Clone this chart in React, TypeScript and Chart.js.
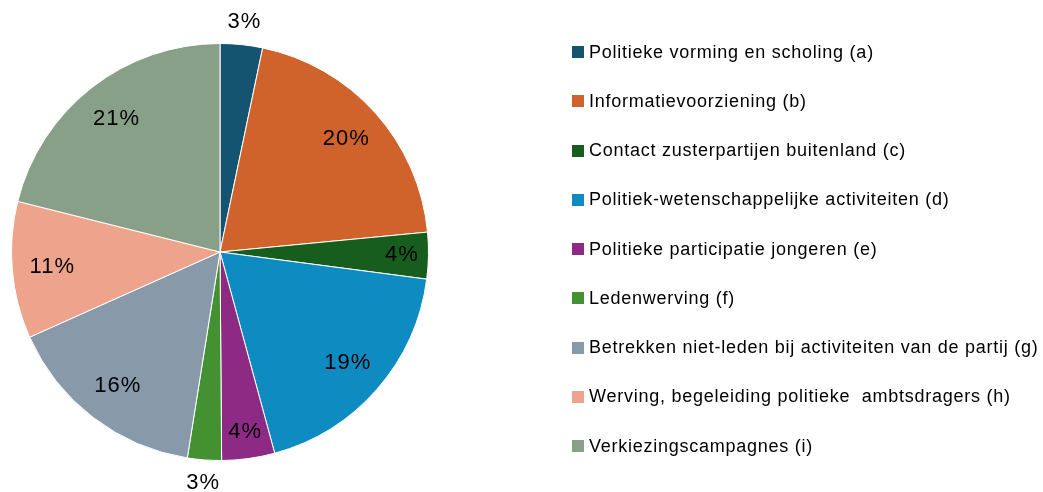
import React, { useEffect, useRef } from "react";
import { Chart, registerables } from "chart.js";

Chart.register(...registerables);

const categories = [
  "Politieke vorming en scholing (a)",
  "Informatievoorziening (b)",
  "Contact zusterpartijen buitenland (c)",
  "Politiek-wetenschappelijke activiteiten (d)",
  "Politieke participatie jongeren (e)",
  "Ledenwerving (f)",
  "Betrekken niet-leden bij activiteiten van de partij (g)",
  "Werving, begeleiding politieke  ambtsdragers (h)",
  "Verkiezingscampagnes (i)",
];

const shares = [3.28, 20.2, 3.6, 18.7, 4.1, 2.63, 15.8, 10.6, 21.1];

const colors = [
  "#155470",
  "#D0632B",
  "#165D1E",
  "#0E8CC1",
  "#8C2A84",
  "#439131",
  "#8899AA",
  "#EDA38C",
  "#88A088",
];

const FONT = "'Liberation Sans', Arial, sans-serif";

const labelPlugin = {
  id: "pctLabels",
  afterDatasetsDraw(chart: any) {
    const ctx = chart.ctx;
    const meta = chart.getDatasetMeta(0);
    const data = chart.data.datasets[0].data as number[];
    const total = data.reduce((s, v) => s + v, 0);
    ctx.save();
    ctx.fillStyle = "#000";
    ctx.font = `22px ${FONT}`;
    try {
      (ctx as any).letterSpacing = "1px";
    } catch (e) {}
    ctx.textAlign = "center";
    ctx.textBaseline = "middle";
    meta.data.forEach((arc: any, i: number) => {
      const { x, y, startAngle, endAngle, outerRadius } = arc.getProps(
        ["x", "y", "startAngle", "endAngle", "outerRadius"],
        true
      );
      const mid = (startAngle + endAngle) / 2;
      const pct = (data[i] / total) * 100;
      const f = pct < 3.4 ? 1.11 : pct < 5 ? 0.87 : 0.81;
      const r = outerRadius * f;
      ctx.fillText(
        `${Math.round(pct)}%`,
        x + Math.cos(mid) * r + 0.5,
        y + Math.sin(mid) * r
      );
    });
    ctx.restore();
  },
};

export default function App() {
  const ref = useRef<HTMLCanvasElement>(null);
  useEffect(() => {
    if (!ref.current) return;
    const chart = new Chart(ref.current, {
      type: "pie",
      data: {
        labels: categories,
        datasets: [
          {
            data: shares,
            backgroundColor: colors,
            borderColor: "#ffffff",
            borderWidth: 1,
          },
        ],
      },
      options: {
        responsive: false,
        animation: false,
        layout: { padding: { left: 11, top: 43, right: 614, bottom: 31 } },
        plugins: {
          legend: { display: false },
          tooltip: { enabled: false },
        },
      },
      plugins: [labelPlugin],
    });
    return () => chart.destroy();
  }, []);

  return (
    <div
      style={{
        position: "fixed",
        left: 0,
        top: 0,
        width: 1043,
        height: 492,
        background: "#fff",
      }}
    >
      <canvas ref={ref} width={1043} height={492} />
      {categories.map((c, i) => (
        <div
          key={c}
          style={{
            position: "absolute",
            left: 572,
            top: 52 + i * 49.25 - 12,
            height: 24,
            display: "flex",
            alignItems: "center",
            fontFamily: FONT,
            fontSize: 18,
            letterSpacing: "0.75px",
            color: "#000",
            whiteSpace: "pre",
          }}
        >
          <span
            style={{
              display: "inline-block",
              width: 12,
              height: 12,
              background: colors[i],
              marginRight: 5,
            }}
          />
          <span>{c}</span>
        </div>
      ))}
    </div>
  );
}
